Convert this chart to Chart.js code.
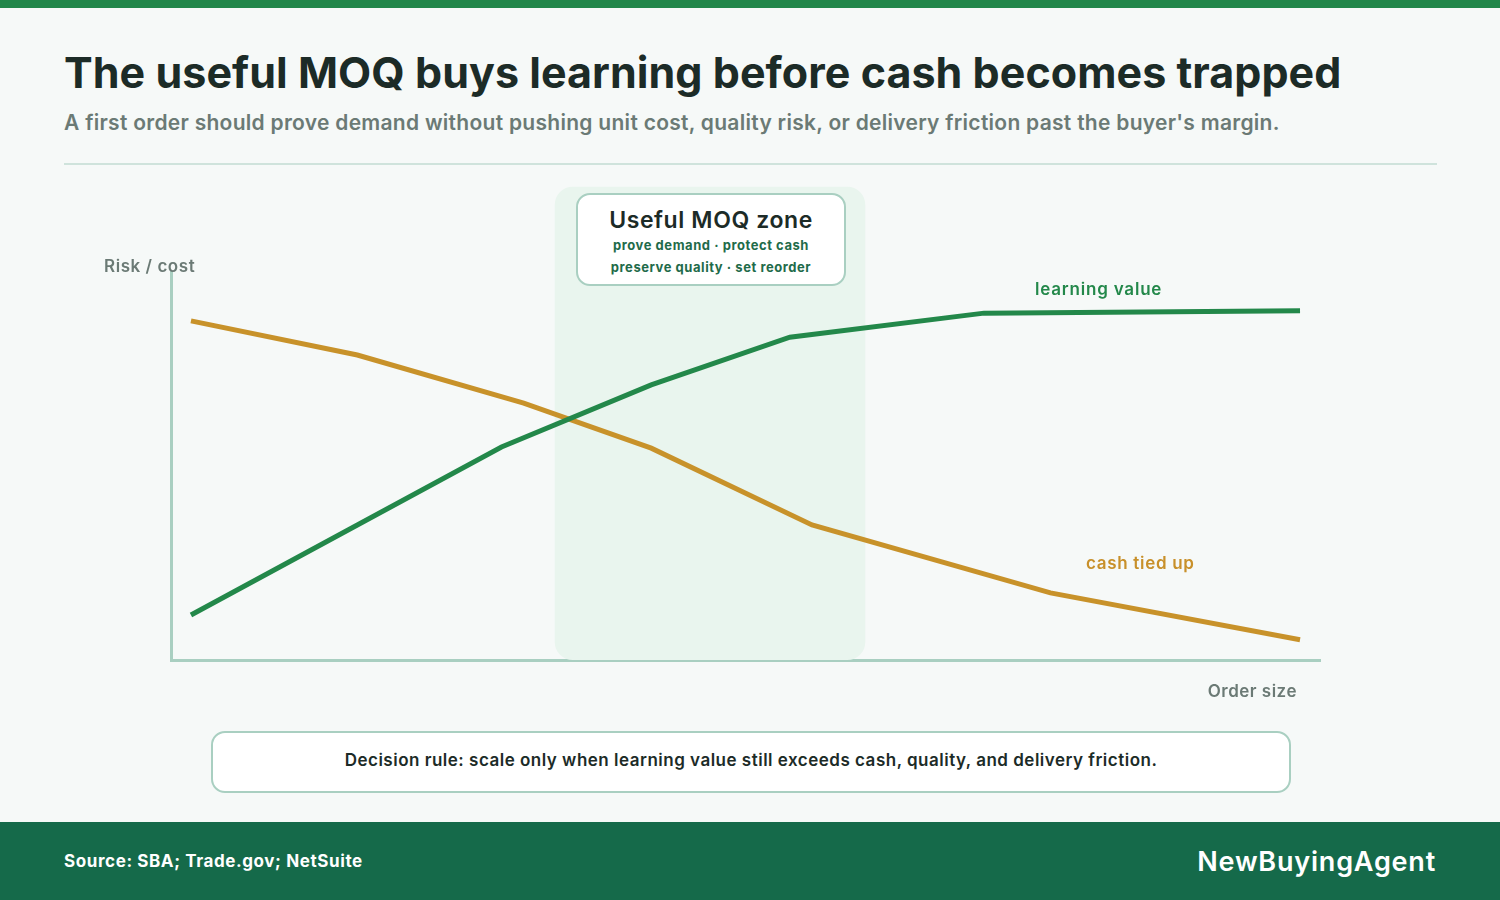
<!DOCTYPE html>
<html>
<head>
<meta charset="utf-8">
<script src="https://cdn.jsdelivr.net/npm/chart.js@4.4.1/dist/chart.umd.min.js"></script>
<style>
  html, body { margin: 0; padding: 0; }
  body { width: 1500px; height: 900px; background: #f6f9f8; position: relative; overflow: hidden; font-family: Inter, "Noto Sans", sans-serif; }
  .abs { position: absolute; white-space: nowrap; }
  #topbar { left: 0; top: 0; width: 1500px; height: 8px; background: #22874a; }
  #title { left: 64px; top: 46px; font-size: 43px; font-weight: 700; color: #1c2b27; letter-spacing: 0.05px; }
  #subtitle { left: 64px; top: 110px; font-size: 21px; font-weight: 600; color: #6b7a75; letter-spacing: 0.28px; }
  #rule { left: 64px; top: 163px; width: 1373px; height: 2px; background: #cfe3dc; }
  #chart { left: 0; top: 0; }
  #zonebox { left: 576px; top: 193px; width: 266px; height: 89px; background: #fff; border: 2px solid #a9cfc1; border-radius: 14px; text-align: center; }
  #zonebox .h { font-size: 23px; font-weight: 600; color: #1c2b27; margin-top: 11px; line-height: 28px; letter-spacing: 0.6px; }
  #zonebox .s { font-size: 13px; font-weight: 700; color: #1f6b4a; line-height: 22px; letter-spacing: 0.55px; }
  .lbl { font-size: 17px; font-weight: 600; }
  #decision { left: 211px; top: 731px; width: 1076px; height: 58px; background: #fff; border: 2px solid #a9cfc1; border-radius: 14px; text-align: center; line-height: 54px; font-size: 17px; font-weight: 600; color: #1c2b27; letter-spacing: 0.5px; }
  #footer { left: 0; top: 822px; width: 1500px; height: 78px; background: #156a4a; }
  #source { left: 64px; top: 851px; font-size: 17px; font-weight: 700; color: #fff; letter-spacing: 0.6px; }
  #brand { right: 64px; top: 845px; font-size: 27px; font-weight: 600; color: #fff; letter-spacing: 0.8px; }
</style>
</head>
<body>
<div class="abs" id="topbar"></div>
<div class="abs" id="title">The useful MOQ buys learning before cash becomes trapped</div>
<div class="abs" id="subtitle">A first order should prove demand without pushing unit cost, quality risk, or delivery friction past the buyer's margin.</div>
<div class="abs" id="rule"></div>
<canvas class="abs" id="chart" width="1500" height="900"></canvas>
<div class="abs" id="zonebox">
  <div class="h">Useful MOQ zone</div>
  <div class="s">prove demand · protect cash</div>
  <div class="s">preserve quality · set reorder</div>
</div>
<div class="abs lbl" style="left:104px; top:256px; color:#6b7a75; letter-spacing:0.55px;">Risk / cost</div>
<div class="abs lbl" style="right:203px; top:681px; color:#6b7a75; letter-spacing:0.5px;">Order size</div>
<div class="abs lbl" style="left:1035px; top:279px; color:#23884a; letter-spacing:0.8px;">learning value</div>
<div class="abs lbl" style="left:1086px; top:553px; color:#c8902a; letter-spacing:0.7px;">cash tied up</div>
<div class="abs" id="decision">Decision rule: scale only when learning value still exceeds cash, quality, and delivery friction.</div>
<div class="abs" id="footer"></div>
<div class="abs" id="source">Source: SBA; Trade.gov; NetSuite</div>
<div class="abs" id="brand">NewBuyingAgent</div>

<script>
// order size (0-100) and relative level (0-100)
const learningX = [0, 15, 28, 41.5, 54, 71.5, 100];
const learningY = [11.6, 34.8, 54.9, 70.9, 83.2, 89.4, 90];
const cashX = [0, 15, 30, 41.5, 56, 77.5, 100];
const cashY = [87.4, 78.6, 66.2, 54.6, 34.8, 17.3, 5.2];
const zoneRange = [32.8, 60.8];
const zoneTop = 122;

const toPoints = (xs, ys) => xs.map((x, i) => ({ x: x, y: ys[i] }));

// shaded MOQ zone behind the lines
const zonePlugin = {
  id: 'zone',
  beforeDatasetsDraw(chart) {
    const { ctx, scales } = chart;
    const x1 = scales.x.getPixelForValue(zoneRange[0]);
    const x2 = scales.x.getPixelForValue(zoneRange[1]);
    const y1 = scales.y.getPixelForValue(zoneTop);
    const y2 = scales.y.getPixelForValue(0);
    ctx.save();
    ctx.fillStyle = '#e9f5ee';
    ctx.beginPath();
    ctx.roundRect(x1, y1, x2 - x1, y2 - y1, 18);
    ctx.fill();
    ctx.restore();
  }
};

const ctx = document.getElementById('chart').getContext('2d');
new Chart(ctx, {
  type: 'line',
  plugins: [zonePlugin],
  data: {
    datasets: [
      {
        label: 'learning value',
        data: toPoints(learningX, learningY),
        borderColor: '#23884a',
        borderWidth: 5,
        pointRadius: 0,
        tension: 0,
      },
      {
        label: 'cash tied up',
        data: toPoints(cashX, cashY),
        borderColor: '#c8922a',
        borderWidth: 5,
        pointRadius: 0,
        tension: 0,
      },
    ],
  },
  options: {
    responsive: false,
    animation: false,
    layout: { padding: { left: 171, right: 180, top: 272, bottom: 240 } },
    plugins: { legend: { display: false }, tooltip: { enabled: false } },
    scales: {
      x: {
        type: 'linear',
        min: -1.8,
        max: 101.8,
        ticks: { display: false },
        grid: { display: false, drawTicks: false },
        border: { display: true, color: '#a9cfc1', width: 3 },
      },
      y: {
        min: 0,
        max: 100,
        ticks: { display: false },
        grid: { display: false, drawTicks: false },
        border: { display: true, color: '#a9cfc1', width: 3 },
      },
    },
  },
});
</script>
</body>
</html>
